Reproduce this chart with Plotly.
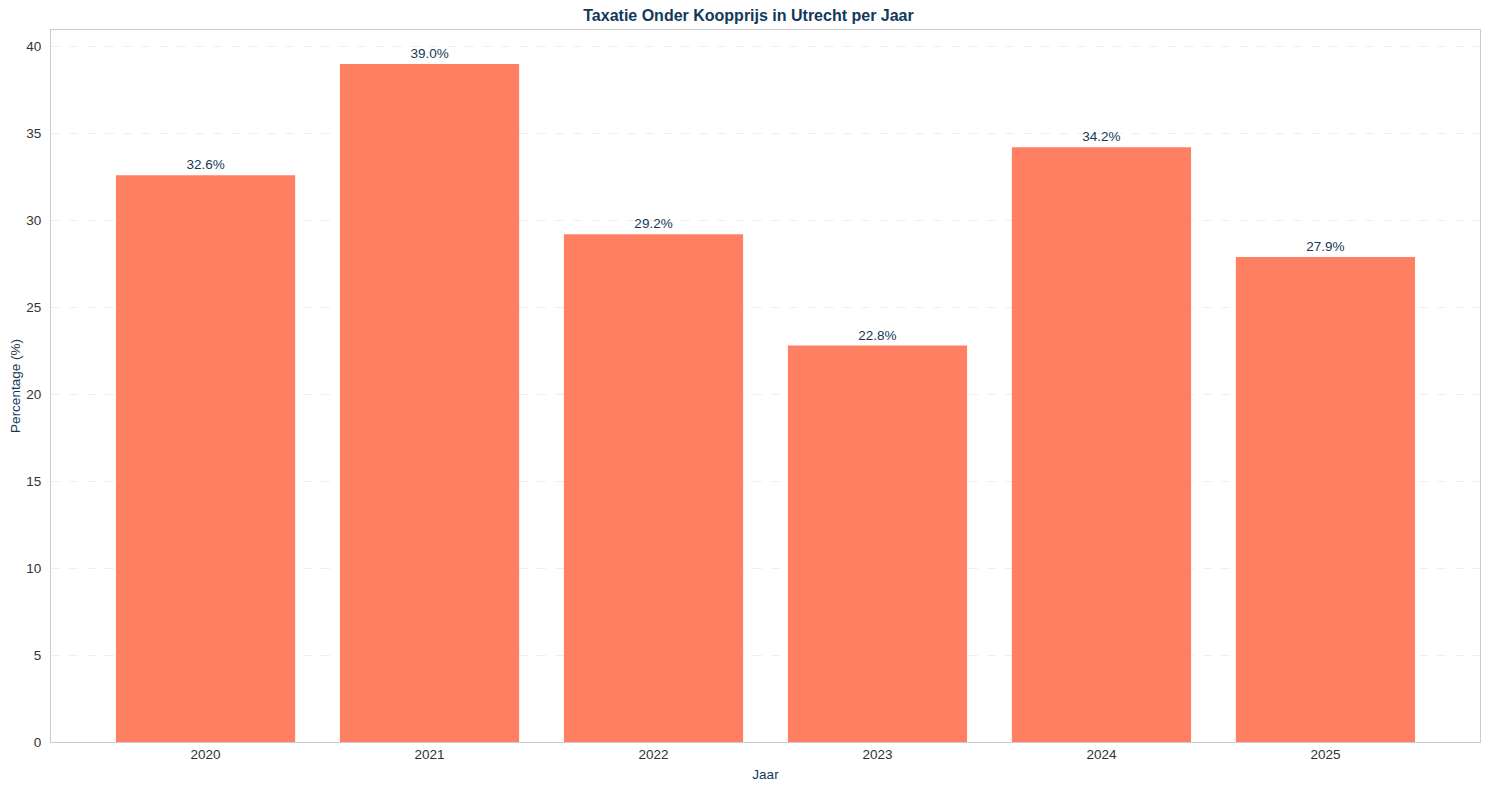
import plotly.graph_objects as go

years = ["2020", "2021", "2022", "2023", "2024", "2025"]
values = [32.6, 39.0, 29.2, 22.8, 34.2, 27.9]
labels = [f"{v:.1f}%" for v in values]

navy = "#13395a"
fig = go.Figure(go.Bar(
    x=list(range(len(years))), y=values, width=0.8,
    marker=dict(color="#FF7F63", line=dict(width=0)),
    text=labels, textposition="outside", cliponaxis=False,
    textfont=dict(family="Liberation Sans, Arial", size=13.5, color=navy),
))
fig.update_layout(
    width=1481, height=782,
    margin=dict(l=43, r=9, t=22, b=48),
    paper_bgcolor="white", plot_bgcolor="white",
    font=dict(family="Liberation Sans, Arial", size=13.5, color="#333333"),
    title=dict(text="<b>Taxatie Onder Koopprijs in Utrecht per Jaar</b>",
               x=0.5, xanchor="center", y=0.99, yanchor="middle",
               font=dict(size=16, color=navy)),
    showlegend=False, bargap=0.2,
)
fig.update_xaxes(
    range=[-0.69, 5.69], tickmode="array", tickvals=list(range(len(years))),
    ticktext=years, showgrid=False, zeroline=False, automargin=False,
    showline=True, linecolor="#cccccc", linewidth=1, mirror=True, ticks="",
    title=dict(text="Jaar", font=dict(size=13.5, color=navy), standoff=8),
)
fig.update_yaxes(
    range=[0, 40.95], tickmode="array", tickvals=[0, 5, 10, 15, 20, 25, 30, 35, 40],
    showgrid=True, gridcolor="#efefef", griddash="dash", gridwidth=1, zeroline=False,
    showline=True, linecolor="#cccccc", linewidth=1, mirror=True, ticks="",
    ticklabelstandoff=6, automargin=False,
    title=dict(text="Percentage (%)", font=dict(size=13.5, color=navy), standoff=6),
)
fig.write_html("out.html")
